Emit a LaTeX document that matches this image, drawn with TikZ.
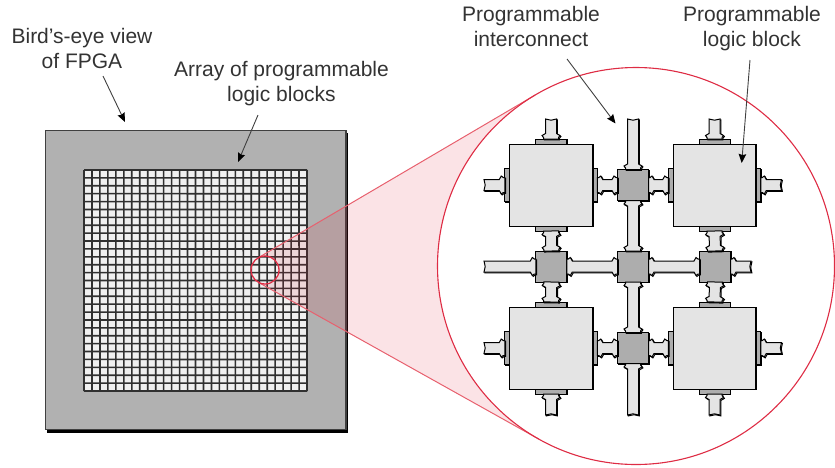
\documentclass[tikz,border=0pt]{standalone}
\usepackage{fontspec}
\setmainfont{Liberation Sans}
\usetikzlibrary{calc,arrows.meta}
\definecolor{lightfill}{HTML}{E4E4E4}
\definecolor{midfill}{HTML}{ADADAD}
\definecolor{chipfill}{HTML}{B1B1B1}
\definecolor{cellfill}{HTML}{F0F0F0}
\definecolor{gridline}{HTML}{303030}
\definecolor{ringred}{HTML}{DE2C44}
\definecolor{conered}{HTML}{E8606E}
\definecolor{labelgray}{HTML}{333333}
\tikzset{
  shadowed/.style={preaction={draw=black,line width=1pt,transform canvas={shift={(#1,-#1)}}}},
  shadowed/.default=0.9pt,
  block/.style={rectangle,draw=black,line width=.9pt,fill=lightfill,inner sep=0pt,outer sep=0pt,minimum width=82.5pt,minimum height=82pt,shadowed},
  switchbox/.style={rectangle,draw=black,line width=.9pt,fill=midfill,inner sep=0pt,outer sep=0pt,minimum size=31pt,shadowed},
  padh/.style={rectangle,draw=black,line width=.7pt,fill=midfill,inner sep=0pt,outer sep=0pt,minimum width=31pt,minimum height=5pt,shadowed=.6pt},
  padv/.style={rectangle,draw=black,line width=.7pt,fill=midfill,inner sep=0pt,outer sep=0pt,minimum width=5pt,minimum height=33pt,shadowed=.6pt},
  wirebody/.style={draw=black,line width=1pt,fill=lightfill,line join=miter,shadowed},
  label/.style={inner sep=0pt,outer sep=0pt,align=center,anchor=north,text=labelgray,font=\fontsize{21}{25}\selectfont},
  leader/.style={draw=black!75,line width=.9pt,-{Stealth[length=9pt,width=7.5pt,inset=1pt,color=black]}},
  ring/.style={draw=ringred,line width=1.1pt},
  coneline/.style={draw=conered,line width=1pt},
  conefill/.style={fill={rgb,255:red,222;green,40;blue,60},fill opacity=.13},
}
\newcommand\wiresetup[2]{%
  \path let \p1=(#1),\p2=(#2),\n1={veclen(\x2-\x1,\y2-\y1)},\n2={atan2(\y2-\y1,\x2-\x1)} in
    \pgfextra{\pgfmathsetmacro\wl{\n1}\pgfmathsetmacro\wa{\n2}\global\let\wlen\wl\global\let\wang\wa};%
}
% wire with barbs at both ends, between two blocks
\newcommand\wireboth[2]{%
  \wiresetup{#1}{#2}%
  \begin{scope}[shift={(#1)},rotate=\wang]
    \path[wirebody] (0,7.5)--(1.5,7.5)--(3.5,9)--(5.5,5.5)--({\wlen-5.5},5.5)--({\wlen-3.5},9)--({\wlen-1.5},7.5)--(\wlen,7.5)
      --(\wlen,-7.5)--({\wlen-1.5},-7.5)--({\wlen-3.5},-9)--({\wlen-5.5},-5.5)--(5.5,-5.5)--(3.5,-9)--(1.5,-7.5)--(0,-7.5)--cycle;
  \end{scope}}
% wire with a barb at the block end and a cut free end
\newcommand\wirestub[2]{%
  \wiresetup{#1}{#2}%
  \begin{scope}[shift={(#1)},rotate=\wang]
    \path[wirebody] (0,7.5)--(1.5,7.5)--(3.5,9)--(5.5,5.5)--(\wlen,5.5)--({\wlen-1.2},0)--(\wlen,-5.5)
      --(5.5,-5.5)--(3.5,-9)--(1.5,-7.5)--(0,-7.5)--cycle;
  \end{scope}}
\begin{document}
\begin{tikzpicture}[x=1pt,y=-1pt]
\useasboundingbox (0,0) rectangle (835,467);
% --- chip ---
\fill[black] (47,133) rectangle (348.3,432.6);
\node[rectangle,draw=black!75,line width=1.2pt,fill=chipfill,inner sep=0pt,outer sep=0pt,minimum width=300.5pt,minimum height=299pt] (chip) at (195.7,280) {};
\node[rectangle,fill=cellfill,inner sep=0pt,outer sep=0pt,minimum width=223pt,minimum height=221pt] (array) at (195.5,280.5) {};
\foreach \i in {0,...,28}{
  \draw[gridline,line width=1.6pt] ($(array.north west)+({\i*223/28},0)$) -- ($(array.south west)+({\i*223/28+.03},0)$);
  \draw[gridline,line width=1.6pt] ($(array.north west)+(0,{\i*221/28})$) -- ($(array.north east)+(0,{\i*221/28+.03})$);
}
% --- magnifying cone ---
\coordinate (big) at (636,266);
\coordinate (small) at (265,270);
\coordinate (bigU) at ($(big)+(239.5:198.5)$);
\coordinate (bigL) at ($(big)+(119.3:198.5)$);
\coordinate (smallU) at ($(small)+(239.5:14)$);
\coordinate (smallL) at ($(small)+(119.3:14)$);
\fill[conefill] (bigU) arc[start angle=239.5,end angle=119.3,radius=198.5] -- (smallL)
   arc[start angle=119.3,end angle=-120.5,radius=14] -- cycle;
\draw[coneline] (smallU) -- (bigU);
\draw[coneline] (smallL) -- (bigL);
\draw[ring] (big) circle[radius=198.5];
\draw[ring,line width=1.3pt] (small) circle[radius=14];
% --- logic blocks and pads ---
\foreach \b/\x/\y in {A/551/185,B/714.5/185,C/551/348,D/714.5/348}{
  \node[padh,anchor=south] (\b n) at (\x,{\y-41}) {};
  \node[padh,anchor=north] (\b s) at (\x,{\y+41}) {};
  \node[padv,anchor=east] (\b w) at ({\x-41.25},\y) {};
  \node[padv,anchor=west] (\b e) at ({\x+41.25},\y) {};
  \node[block] (\b) at (\x,\y) {};
}
% --- switch blocks ---
\foreach \s/\x/\y in {S1/633/185,S2/551.3/266.5,S3/633/266.5,S4/715/266.5,S5/633/348}{
  \node[switchbox] (\s) at (\x,\y) {};
}
% --- free wire ends ---
\foreach \c/\x/\y in {an/551/119,bn/714.5/119,cs/551/415,ds/714.5/415,s1n/633/119,s5s/633/415,
   aw/484/185,be/781.5/185,cw/484/348,de/781.5/348,s2w/484/266.5,s4e/751/266.5}{
  \coordinate (\c) at (\x,\y);
}
% --- wires ---
\wirestub{An.north}{an}
\wirestub{Bn.north}{bn}
\wirestub{Cs.south}{cs}
\wirestub{Ds.south}{ds}
\wirestub{S1.north}{s1n}
\wirestub{S5.south}{s5s}
\wirestub{Aw.west}{aw}
\wirestub{Be.east}{be}
\wirestub{Cw.west}{cw}
\wirestub{De.east}{de}
\wirestub{S2.west}{s2w}
\wirestub{S4.east}{s4e}
\wireboth{Ae.east}{S1.west}
\wireboth{S1.east}{Bw.west}
\wireboth{Ce.east}{S5.west}
\wireboth{S5.east}{Dw.west}
\wireboth{As.south}{S2.north}
\wireboth{S2.south}{Cn.north}
\wireboth{Bs.south}{S4.north}
\wireboth{S4.south}{Dn.north}
\wireboth{S1.south}{S3.north}
\wireboth{S3.south}{S5.north}
\wireboth{S2.east}{S3.west}
\wireboth{S3.east}{S4.west}
% --- labels ---
\node[label] (lbird) at (82,28) {Bird’s-eye view\\of FPGA};
\node[label] (larray) at (281.5,61) {Array of programmable\\logic blocks};
\node[label] (linter) at (531,6) {Programmable\\interconnect};
\node[label] (llogic) at (752,6) {Programmable\\logic block};
% --- leaders ---
\coordinate (t1) at (103,76);   \coordinate (h1) at (125,122);
\coordinate (t2) at (258,115);  \coordinate (h2) at (238,162);
\coordinate (t3) at (567,59);   \coordinate (h3) at (615.5,123.5);
\coordinate (t4) at (750,60);   \coordinate (h4) at (741.7,163);
\draw[leader] (t1) -- (h1);
\draw[leader] (t2) -- (h2);
\draw[leader] (t3) -- (h3);
\draw[leader] (t4) -- (h4);
\end{tikzpicture}
\end{document}
